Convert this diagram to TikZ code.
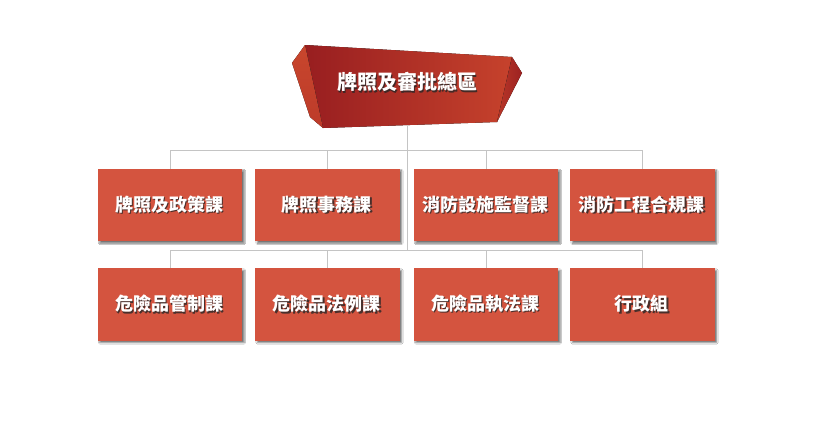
\documentclass[tikz,border=0pt]{standalone}
\usepackage{fontspec}
\setmainfont{Noto Sans CJK TC}
\usetikzlibrary{shadows.blur,fadings}
\definecolor{boxred}{RGB}{212,84,63}
\definecolor{darkred}{RGB}{152,30,32}
\definecolor{litred}{RGB}{198,66,44}
\definecolor{sidered}{RGB}{200,70,45}
\definecolor{linegray}{RGB}{196,196,196}
\tikzset{
  unitbox/.style={fill=boxred, minimum width=143pt, minimum height=71pt, inner sep=0pt,
    blur shadow={shadow xshift=2pt, shadow yshift=-2pt, shadow blur radius=1.5pt, shadow opacity=55}},
  conn/.style={draw=linegray, line width=0.9pt},
}
\newcommand{\shtext}[2]{%
  \tikz[baseline=(t.base)]{\node[inner sep=0pt, text=black!85, opacity=0.8] at (1.4pt,-1.4pt) {\fontsize{#1}{#1}\selectfont\bfseries #2};
  \node[inner sep=0pt, text=white] (t) at (0,0) {\fontsize{#1}{#1}\selectfont\bfseries #2};}}
\begin{document}
\begin{tikzpicture}[x=1pt,y=-1pt]
\useasboundingbox[fill=white] (0,0) rectangle (814,421);
% top shape
\coordinate (tl) at (305,45);
\coordinate (tr) at (512,57);
\coordinate (br) at (497,122);
\coordinate (bl) at (323,128);
\fill[left color=darkred, right color=litred] (tl) -- (tr) -- (br) -- (bl) -- cycle;
\fill[top color=sidered, bottom color=litred!80!darkred] (tl) -- (292,63) -- (310,117) -- (bl) -- cycle;
\fill[left color=litred!70!darkred, right color=darkred!90!litred] (tr) -- (522,73) -- (br) -- cycle;
\node (top) at (408,83) {\shtext{20pt}{牌照及審批總區}};
\coordinate (topb) at (407,126);
% boxes
\node[unitbox] (a1) at (170,205) {\shtext{18pt}{牌照及政策課}};
\node[unitbox] (a2) at (327.5,205) {\shtext{18pt}{牌照事務課}};
\node[unitbox] (a3) at (486,205) {\shtext{18pt}{消防設施監督課}};
\node[unitbox] (a4) at (642.5,205) {\shtext{18pt}{消防工程合規課}};
\node[unitbox] (b1) at (170,304.5) {\shtext{18pt}{危險品管制課}};
\node[unitbox] (b2) at (327.5,304.5) {\shtext{18pt}{危險品法例課}};
\node[unitbox] (b3) at (486,304.5) {\shtext{18pt}{危險品執法課}};
\node[unitbox] (b4) at (642.5,304.5) {\shtext{18pt}{行政組}};
% connectors
\coordinate (bus1) at (407,150);
\coordinate (bus2) at (407,250);
\draw[conn] (topb) -- (bus2);
\draw[conn] (a1.north) -- (a1.north |- bus1) -- (a4.north |- bus1) -- (a4.north);
\draw[conn] (a2.north) -- (a2.north |- bus1);
\draw[conn] (a3.north) -- (a3.north |- bus1);
\draw[conn] (b1.north) -- (b1.north |- bus2) -- (b4.north |- bus2) -- (b4.north);
\draw[conn] (b2.north) -- (b2.north |- bus2);
\draw[conn] (b3.north) -- (b3.north |- bus2);
\end{tikzpicture}
\end{document}
